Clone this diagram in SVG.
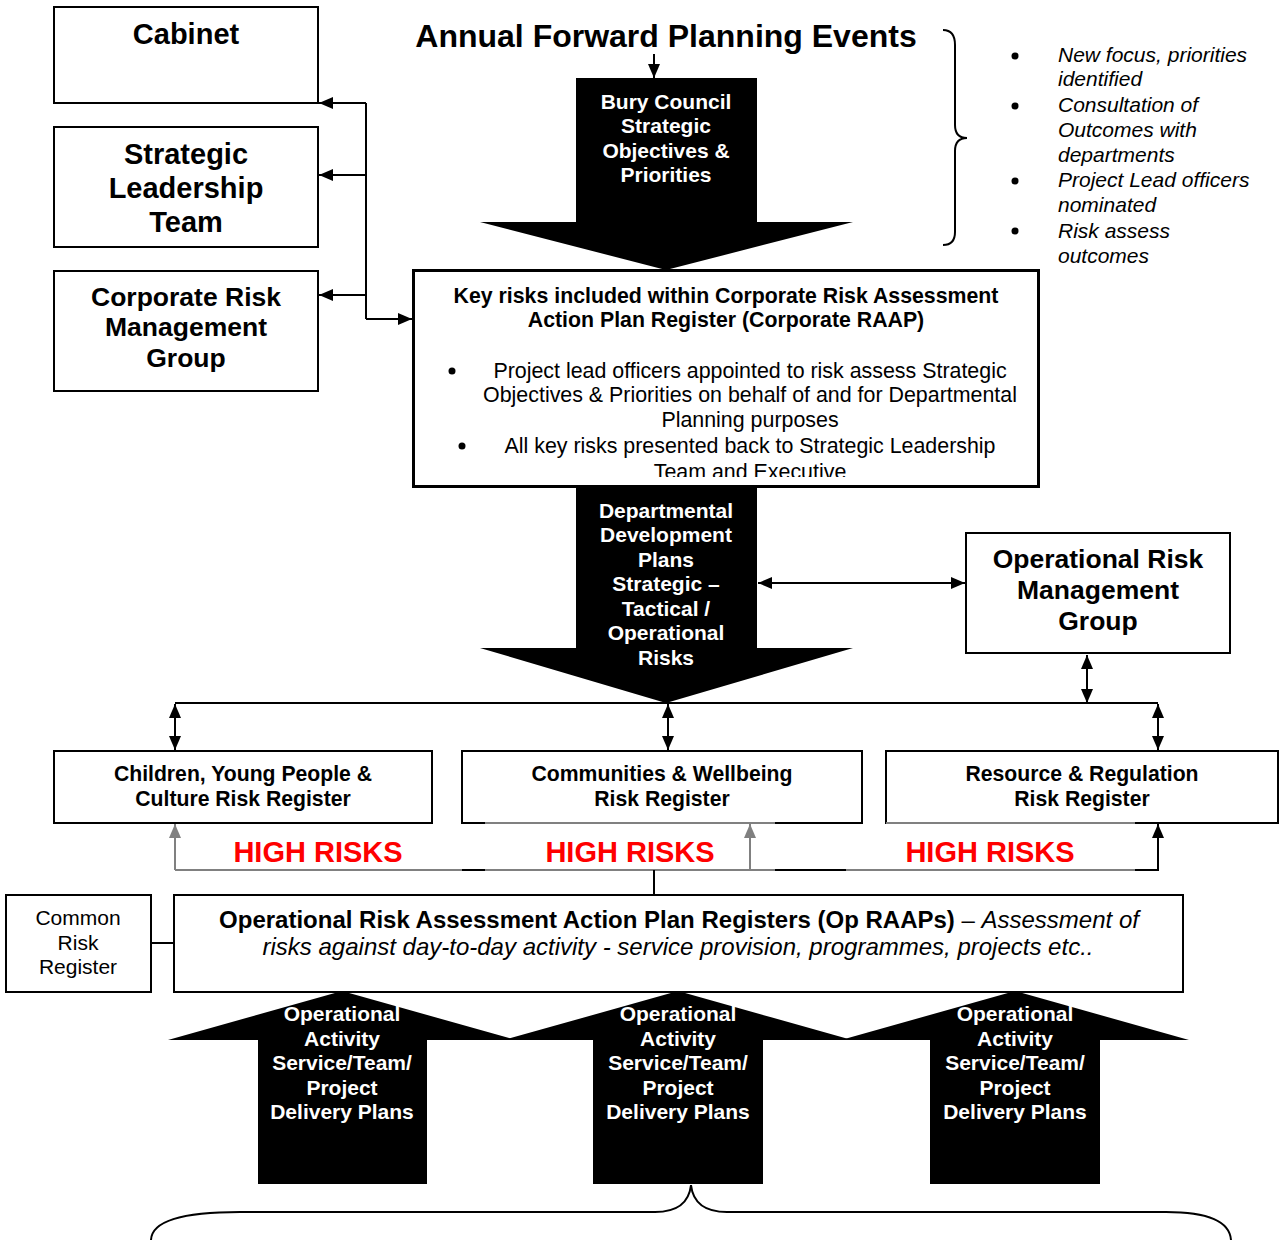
<svg xmlns="http://www.w3.org/2000/svg" width="1280" height="1240" viewBox="0 0 1280 1240">
<style>
.box{fill:#fff;stroke:#000;stroke-width:2}
.t{font-family:"Liberation Sans",Arial,sans-serif;fill:#000}
.b{font-weight:bold}
.i{font-style:italic}
.w{fill:#fff}
.red{fill:#ff0000}
.ln{fill:none;stroke:#000;stroke-width:2}
.gl{fill:none;stroke:#808080;stroke-width:2}
.blk{fill:#000;stroke:none}
</style>
<defs>
<marker id="ah" viewBox="0 0 14 12" refX="14" refY="6" markerWidth="14" markerHeight="12" markerUnits="userSpaceOnUse" orient="auto-start-reverse"><path d="M0,0 L14,6 L0,12 z" fill="#000"/></marker>
<marker id="ahg" viewBox="0 0 14 12" refX="14" refY="6" markerWidth="14" markerHeight="12" markerUnits="userSpaceOnUse" orient="auto-start-reverse"><path d="M0,0 L14,6 L0,12 z" fill="#808080"/></marker>
<clipPath id="clipKey"><rect x="414" y="271" width="624" height="206"/></clipPath>
</defs>
<rect width="1280" height="1240" fill="#fff"/>

<g id="cabinet">
<rect class="box" x="54" y="7" width="264" height="96"/>
<text class="t b" x="186" y="44" font-size="29" text-anchor="middle">Cabinet</text>
</g>
<g id="slt">
<rect class="box" x="54" y="127" width="264" height="120"/>
<text class="t b" x="186" y="164" font-size="29" text-anchor="middle">Strategic</text>
<text class="t b" x="186" y="198" font-size="29" text-anchor="middle">Leadership</text>
<text class="t b" x="186" y="232" font-size="29" text-anchor="middle">Team</text>
</g>
<g id="crmg">
<rect class="box" x="54" y="271" width="264" height="120"/>
<text class="t b" x="186" y="306" font-size="26.5" text-anchor="middle">Corporate Risk</text>
<text class="t b" x="186" y="336" font-size="26.5" text-anchor="middle">Management</text>
<text class="t b" x="186" y="367" font-size="26.5" text-anchor="middle">Group</text>
</g>

<g id="title">
<text class="t b" x="666" y="47" font-size="32" text-anchor="middle">Annual Forward Planning Events</text>
</g>

<g id="bury-arrow">
<path class="blk" d="M576,78 L757,78 L757,222 L853,222 L666,270 L480,222 L576,222 Z"/>
<text class="t b w" x="666" y="109" font-size="21" text-anchor="middle">Bury Council</text>
<text class="t b w" x="666" y="133" font-size="21" text-anchor="middle">Strategic</text>
<text class="t b w" x="666" y="158" font-size="21" text-anchor="middle">Objectives &amp;</text>
<text class="t b w" x="666" y="182" font-size="21" text-anchor="middle">Priorities</text>
</g>

<g id="events-notes">
<path class="ln" d="M943,30 Q955,30 955,45 L955,125 Q955,138 967,138 Q955,138 955,151 L955,232 Q955,245 943,245" stroke-width="1.5"/>
<circle cx="1015" cy="56" r="3.5" fill="#000"/>
<circle cx="1015" cy="106" r="3.5" fill="#000"/>
<circle cx="1015" cy="181" r="3.5" fill="#000"/>
<circle cx="1015" cy="231" r="3.5" fill="#000"/>
<text class="t i" x="1058" y="62" font-size="21">New focus, priorities</text>
<text class="t i" x="1058" y="86" font-size="21">identified</text>
<text class="t i" x="1058" y="112" font-size="21">Consultation of</text>
<text class="t i" x="1058" y="137" font-size="21">Outcomes with</text>
<text class="t i" x="1058" y="162" font-size="21">departments</text>
<text class="t i" x="1058" y="187" font-size="21">Project Lead officers</text>
<text class="t i" x="1058" y="212" font-size="21">nominated</text>
<text class="t i" x="1058" y="238" font-size="21">Risk assess</text>
<text class="t i" x="1058" y="263" font-size="21">outcomes</text>
</g>

<g id="corporate-raap">
<rect x="413.5" y="270.5" width="625" height="216" fill="#fff" stroke="#000" stroke-width="3"/>
<text class="t b" x="726" y="303" font-size="21.3" text-anchor="middle">Key risks included within Corporate Risk Assessment</text>
<text class="t b" x="726" y="327" font-size="21.3" text-anchor="middle">Action Plan Register (Corporate RAAP)</text>
<circle cx="452" cy="371" r="3.5" fill="#000"/>
<circle cx="462" cy="446" r="3.5" fill="#000"/>
<text class="t" x="750" y="378" font-size="21.4" text-anchor="middle">Project lead officers appointed to risk assess Strategic</text>
<text class="t" x="750" y="402" font-size="21.4" text-anchor="middle">Objectives &amp; Priorities on behalf of and for Departmental</text>
<text class="t" x="750" y="427" font-size="21.4" text-anchor="middle">Planning purposes</text>
<text class="t" x="750" y="453" font-size="21.4" text-anchor="middle">All key risks presented back to Strategic Leadership</text>
<g clip-path="url(#clipKey)"><text class="t" x="750" y="479" font-size="21.4" text-anchor="middle">Team and Executive</text></g>
</g>

<g id="dept-arrow">
<path class="blk" d="M576,488 L757,488 L757,648 L853,648 L666,703 L480,648 L576,648 Z"/>
<text class="t b w" x="666" y="518" font-size="21" text-anchor="middle">Departmental</text>
<text class="t b w" x="666" y="542" font-size="21" text-anchor="middle">Development</text>
<text class="t b w" x="666" y="567" font-size="21" text-anchor="middle">Plans</text>
<text class="t b w" x="666" y="591" font-size="21" text-anchor="middle">Strategic –</text>
<text class="t b w" x="666" y="616" font-size="21" text-anchor="middle">Tactical /</text>
<text class="t b w" x="666" y="640" font-size="21" text-anchor="middle">Operational</text>
<text class="t b w" x="666" y="665" font-size="21" text-anchor="middle">Risks</text>
</g>

<g id="ormg">
<rect class="box" x="966" y="533" width="264" height="120"/>
<text class="t b" x="1098" y="568" font-size="26.5" text-anchor="middle">Operational Risk</text>
<text class="t b" x="1098" y="599" font-size="26.5" text-anchor="middle">Management</text>
<text class="t b" x="1098" y="630" font-size="26.5" text-anchor="middle">Group</text>
</g>

<g id="reg-cyp">
<rect class="box" x="54" y="751" width="378" height="72"/>
<text class="t b" x="243" y="781" font-size="21.2" text-anchor="middle">Children, Young People &amp;</text>
<text class="t b" x="243" y="806" font-size="21.2" text-anchor="middle">Culture Risk Register</text>
</g>
<g id="reg-cw">
<rect class="box" x="462" y="751" width="400" height="72"/>
<text class="t b" x="662" y="781" font-size="21.2" text-anchor="middle">Communities &amp; Wellbeing</text>
<text class="t b" x="662" y="806" font-size="21.2" text-anchor="middle">Risk Register</text>
</g>
<g id="reg-rr">
<rect class="box" x="886" y="751" width="392" height="72"/>
<text class="t b" x="1082" y="781" font-size="21.2" text-anchor="middle">Resource &amp; Regulation</text>
<text class="t b" x="1082" y="806" font-size="21.2" text-anchor="middle">Risk Register</text>
</g>

<g id="high-risks">
<text class="t b red" x="318" y="862" font-size="29" text-anchor="middle">HIGH RISKS</text>
<text class="t b red" x="630" y="862" font-size="29" text-anchor="middle">HIGH RISKS</text>
<text class="t b red" x="990" y="862" font-size="29" text-anchor="middle">HIGH RISKS</text>
</g>

<g id="common-register">
<rect class="box" x="6" y="895" width="145" height="97"/>
<text class="t" x="78" y="925" font-size="21" text-anchor="middle">Common</text>
<text class="t" x="78" y="950" font-size="21" text-anchor="middle">Risk</text>
<text class="t" x="78" y="974" font-size="21" text-anchor="middle">Register</text>
</g>

<g id="op-raaps">
<rect class="box" x="174" y="895" width="1009" height="97"/>
<text class="t" x="679" y="928" font-size="24" text-anchor="middle"><tspan font-weight="bold">Operational Risk Assessment Action Plan Registers (Op RAAPs)</tspan><tspan> – </tspan><tspan font-style="italic">Assessment of</tspan></text>
<text class="t i" x="678" y="955" font-size="24" text-anchor="middle">risks against day-to-day activity - service provision, programmes, projects etc..</text>
</g>

<g id="op-arrow-1">
<path class="blk" d="M342,991 L516,1040 L427,1040 L427,1184 L258,1184 L258,1040 L168,1040 Z"/>
<text class="t b w" x="342" y="1021" font-size="21" text-anchor="middle">Operational</text>
<text class="t b w" x="342" y="1046" font-size="21" text-anchor="middle">Activity</text>
<text class="t b w" x="342" y="1070" font-size="21" text-anchor="middle">Service/Team/</text>
<text class="t b w" x="342" y="1095" font-size="21" text-anchor="middle">Project</text>
<text class="t b w" x="342" y="1119" font-size="21" text-anchor="middle">Delivery Plans</text>
</g>
<g id="op-arrow-2">
<path class="blk" d="M678,991 L852,1040 L763,1040 L763,1184 L593,1184 L593,1040 L504,1040 Z"/>
<text class="t b w" x="678" y="1021" font-size="21" text-anchor="middle">Operational</text>
<text class="t b w" x="678" y="1046" font-size="21" text-anchor="middle">Activity</text>
<text class="t b w" x="678" y="1070" font-size="21" text-anchor="middle">Service/Team/</text>
<text class="t b w" x="678" y="1095" font-size="21" text-anchor="middle">Project</text>
<text class="t b w" x="678" y="1119" font-size="21" text-anchor="middle">Delivery Plans</text>
</g>
<g id="op-arrow-3">
<path class="blk" d="M1015,991 L1189,1040 L1100,1040 L1100,1184 L930,1184 L930,1040 L841,1040 Z"/>
<text class="t b w" x="1015" y="1021" font-size="21" text-anchor="middle">Operational</text>
<text class="t b w" x="1015" y="1046" font-size="21" text-anchor="middle">Activity</text>
<text class="t b w" x="1015" y="1070" font-size="21" text-anchor="middle">Service/Team/</text>
<text class="t b w" x="1015" y="1095" font-size="21" text-anchor="middle">Project</text>
<text class="t b w" x="1015" y="1119" font-size="21" text-anchor="middle">Delivery Plans</text>
</g>

<g id="bottom-brace">
<path class="ln" stroke-width="1.8" d="M151,1240 Q152,1212 240,1212 L655,1212 Q688,1212 691,1185 Q694,1212 727,1212 L1166,1212 Q1229,1212 1231,1240"/>
</g>

<g id="connectors">
<path class="ln" d="M366,103 L366,319"/>
<path class="ln" d="M366,103 L319,103" marker-end="url(#ah)"/>
<path class="ln" d="M366,175 L319,175" marker-end="url(#ah)"/>
<path class="ln" d="M366,295 L319,295" marker-end="url(#ah)"/>
<path class="ln" d="M366,319 L412,319" marker-end="url(#ah)"/>
<path class="ln" d="M654,54 L654,78" marker-end="url(#ah)"/>
<path class="ln" d="M758,583 L965,583" marker-start="url(#ah)" marker-end="url(#ah)"/>
<path class="ln" d="M1087,655 L1087,703" marker-start="url(#ah)" marker-end="url(#ah)"/>
<path class="ln" d="M175,703 L1158,703"/>
<path class="ln" d="M175,704 L175,750" marker-start="url(#ah)" marker-end="url(#ah)"/>
<path class="ln" d="M668,704 L668,750" marker-start="url(#ah)" marker-end="url(#ah)"/>
<path class="ln" d="M1158,704 L1158,750" marker-start="url(#ah)" marker-end="url(#ah)"/>
<path class="gl" d="M485,823 L775,823"/>
<path class="gl" d="M886,823 L1135,823"/>
<path class="gl" d="M175,870 L175,824" marker-end="url(#ahg)"/>
<path class="gl" d="M750,870 L750,824" marker-end="url(#ahg)"/>
<path class="gl" d="M175,870 L1135,870"/>
<path class="ln" d="M462,870 L485,870"/>
<path class="ln" d="M775,870 L846,870"/>
<path class="ln" d="M1135,870 L1158,870 L1158,824" marker-end="url(#ah)"/>
<path class="ln" d="M654,870 L654,895"/>
<path class="ln" d="M151,943 L174,943"/>
</g>
</svg>
